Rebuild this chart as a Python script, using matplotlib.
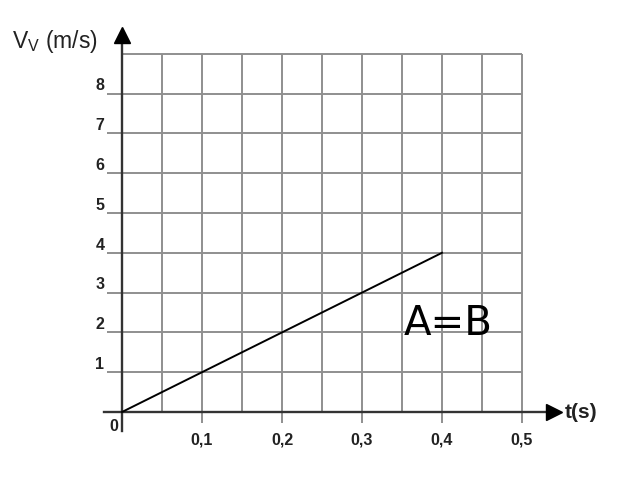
import matplotlib
matplotlib.use('Agg')
import matplotlib.pyplot as plt

# data
t_line = [0.0, 0.4]
v_line = [0.0, 4.0]
x_ticks = [0.1, 0.2, 0.3, 0.4, 0.5]
x_labels = ['0,1', '0,2', '0,3', '0,4', '0,5']
y_ticks = [1, 2, 3, 4, 5, 6, 7, 8]
x_grid = [0.05, 0.1, 0.15, 0.2, 0.25, 0.3, 0.35, 0.4, 0.45, 0.5]
y_grid = [1, 2, 3, 4, 5, 6, 7, 8, 9]

fig = plt.figure(figsize=(6.24, 4.81), dpi=100)
ax = fig.add_axes([0, 0, 1, 1])
ax.set_xlim(-122 / 800, (624 - 122) / 800)
ax.set_ylim(-(481 - 413) / 39.8, 413 / 39.8)
ax.axis('off')

grid_c = '#8f8f8f'
# grid lines
ax.vlines(x_grid, 0, 9, color=grid_c, lw=1.4)
ax.vlines(x_ticks, -0.28, 0, color=grid_c, lw=1.4)
ax.hlines(y_grid, 0, 0.5, color=grid_c, lw=1.4)
ax.hlines(y_ticks, -0.019, 0, color=grid_c, lw=1.4)

# axes
ax.plot([-0.022, 0.54], [0, 0], color='#333333', lw=1.7)
ax.plot([0, 0], [-0.48, 9.3], color='#333333', lw=1.7)
ax.plot(0.5405, 0, marker='>', color='black', ms=11, clip_on=False)
ax.plot(0, 9.47, marker='^', color='black', ms=11, clip_on=False)

# data line
ax.plot(t_line, v_line, color='black', lw=1.4)

fnt = dict(family='Liberation Sans', fontweight='bold', fontsize=11.5, color='#222222')
for v in y_ticks:
    ax.text(-0.022, v + 0.03, str(v), ha='right', va='bottom', **fnt)
for t, lab in zip(x_ticks, x_labels):
    ax.text(t, -0.5, lab, ha='center', va='top', **fnt)
ax.text(-0.005, -0.15, '0', ha='right', va='top', **fnt)

ax.text(0.553, 0.0, 't(s)', ha='left', va='center', fontweight='bold',
        family='Liberation Sans', fontsize=15, color='#222222')
ax.text(-0.1375, 9.17, r'V$_{\mathregular{V}}$ (m/s)', ha='left', va='baseline',
        family='Liberation Sans', fontsize=16.5, color='#222222')

ax.text(0.352, 1.96, 'A=B', ha='left', va='baseline', family='DejaVu Sans',
        fontsize=29, color='black')

fig.savefig('out.png', dpi=100)
